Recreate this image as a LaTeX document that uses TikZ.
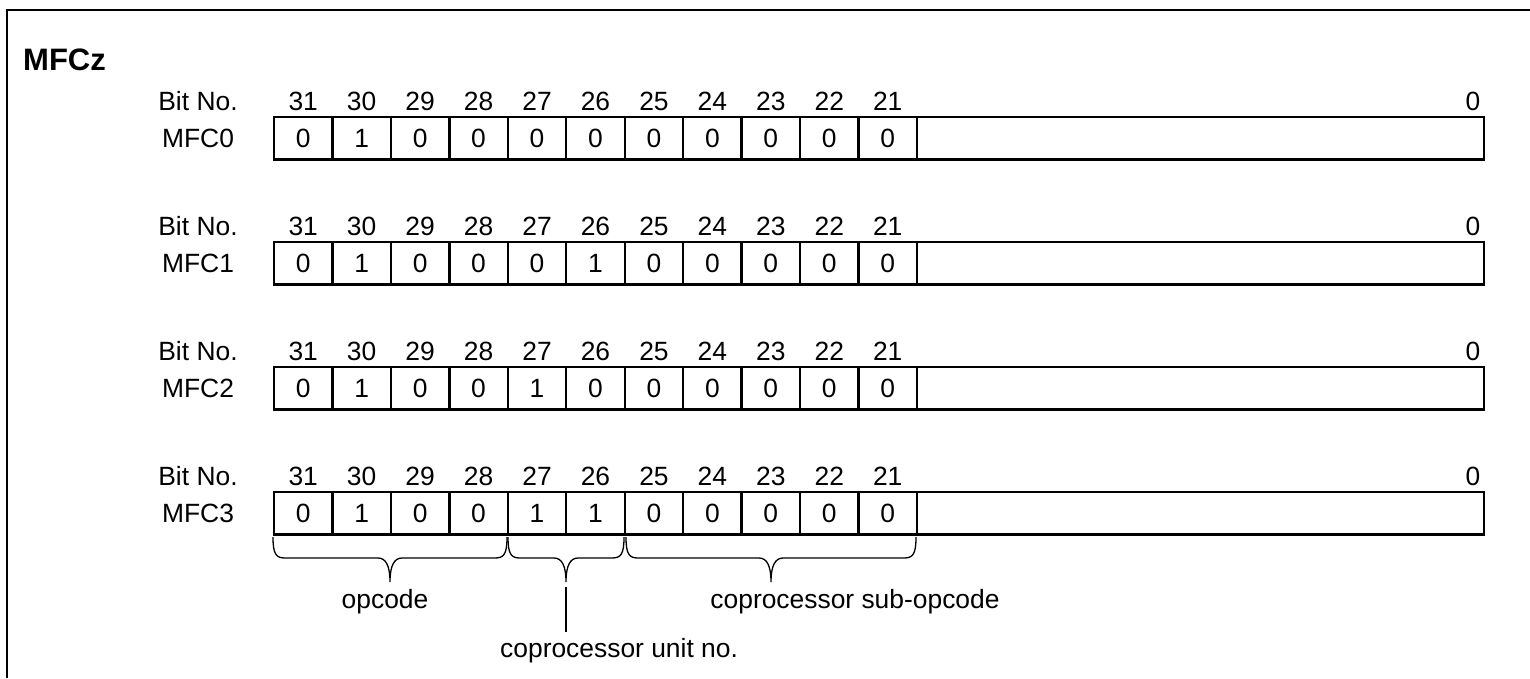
\documentclass[tikz,border=0pt]{standalone}
\usepackage{fontspec}
\setmainfont{Liberation Sans}
\newcommand\lblfont{\fontsize{26.4}{30}\selectfont}
\newcommand\ttlfont{\fontsize{31}{36}\selectfont\bfseries}
\begin{document}
\begin{tikzpicture}[x=1pt,y=-1pt,
  cell/.style={draw, line width=2.3pt, minimum width=58.45pt, minimum height=42.5pt,
    inner sep=0pt, outer sep=0pt, anchor=north west, font=\lblfont},
  bitnum/.style={inner sep=0pt, font=\lblfont},
  rowlbl/.style={inner sep=0pt, font=\lblfont},
  brc/.style={line width=1.3pt},
  frame/.style={line width=2pt}]
\useasboundingbox (0,0) rectangle (1530,678);
\draw[frame] (7,678) -- (7,10) -- (1530,10);
\node[inner sep=0pt, anchor=west, font=\ttlfont] (title) at (23,60) {MFCz};
\foreach \ry/\nm/\vals in {117/MFC0/{0,1,0,0,0,0,0,0,0,0,0},
                           242/MFC1/{0,1,0,0,0,1,0,0,0,0,0},
                           367/MFC2/{0,1,0,0,1,0,0,0,0,0,0},
                           492/MFC3/{0,1,0,0,1,1,0,0,0,0,0}}{
  \node[rowlbl] (lbl\nm) at (198,{\ry+21}) {\nm};
  \node[rowlbl] (bit\nm) at (198,{\ry-16}) {Bit No.};
  \foreach \v [count=\i from 0] in \vals {
    \pgfmathtruncatemacro\bn{31-\i}
    \node[cell] (\nm-\i) at ({274+58.45*\i},\ry) {\v};
    \node[bitnum] (\nm-n\i) at ({274+58.45*(\i+0.5)},{\ry-16}) {\bn};
  }
  \node[cell, minimum width=567pt] (\nm-rest) at (917,\ry) {};
  \node[bitnum] (\nm-zero) at (1473,{\ry-16}) {0};
}
% braces
\draw[brc] (273,537) .. controls (273,554) and (276,558) .. (285,558) -- (378,558)
  .. controls (386,558) and (390,566) .. (390,582)
  .. controls (390,566) and (394,558) .. (402,558) -- (495,558)
  .. controls (504,558) and (507,554) .. (507,537);
\draw[brc] (508,537) .. controls (508,554) and (511,558) .. (520,558) -- (554,558)
  .. controls (562,558) and (566,566) .. (566,582)
  .. controls (566,566) and (570,558) .. (578,558) -- (612,558)
  .. controls (621,558) and (624,554) .. (624,537);
\draw[brc] (626,537) .. controls (626,554) and (629,558) .. (638,558) -- (759,558)
  .. controls (767,558) and (771,566) .. (771,582)
  .. controls (771,566) and (775,558) .. (783,558) -- (904,558)
  .. controls (913,558) and (916,554) .. (916,537);
\coordinate (unittip) at (566,587);
\node[rowlbl, anchor=center] (opc) at (385,602) {opcode};
\node[rowlbl, anchor=west] (unit) at (500,651) {coprocessor unit no.};
\node[rowlbl, anchor=center] (subopc) at (855,602) {coprocessor sub-opcode};
\draw[brc] (unittip) -- (566,632);
\end{tikzpicture}
\end{document}
